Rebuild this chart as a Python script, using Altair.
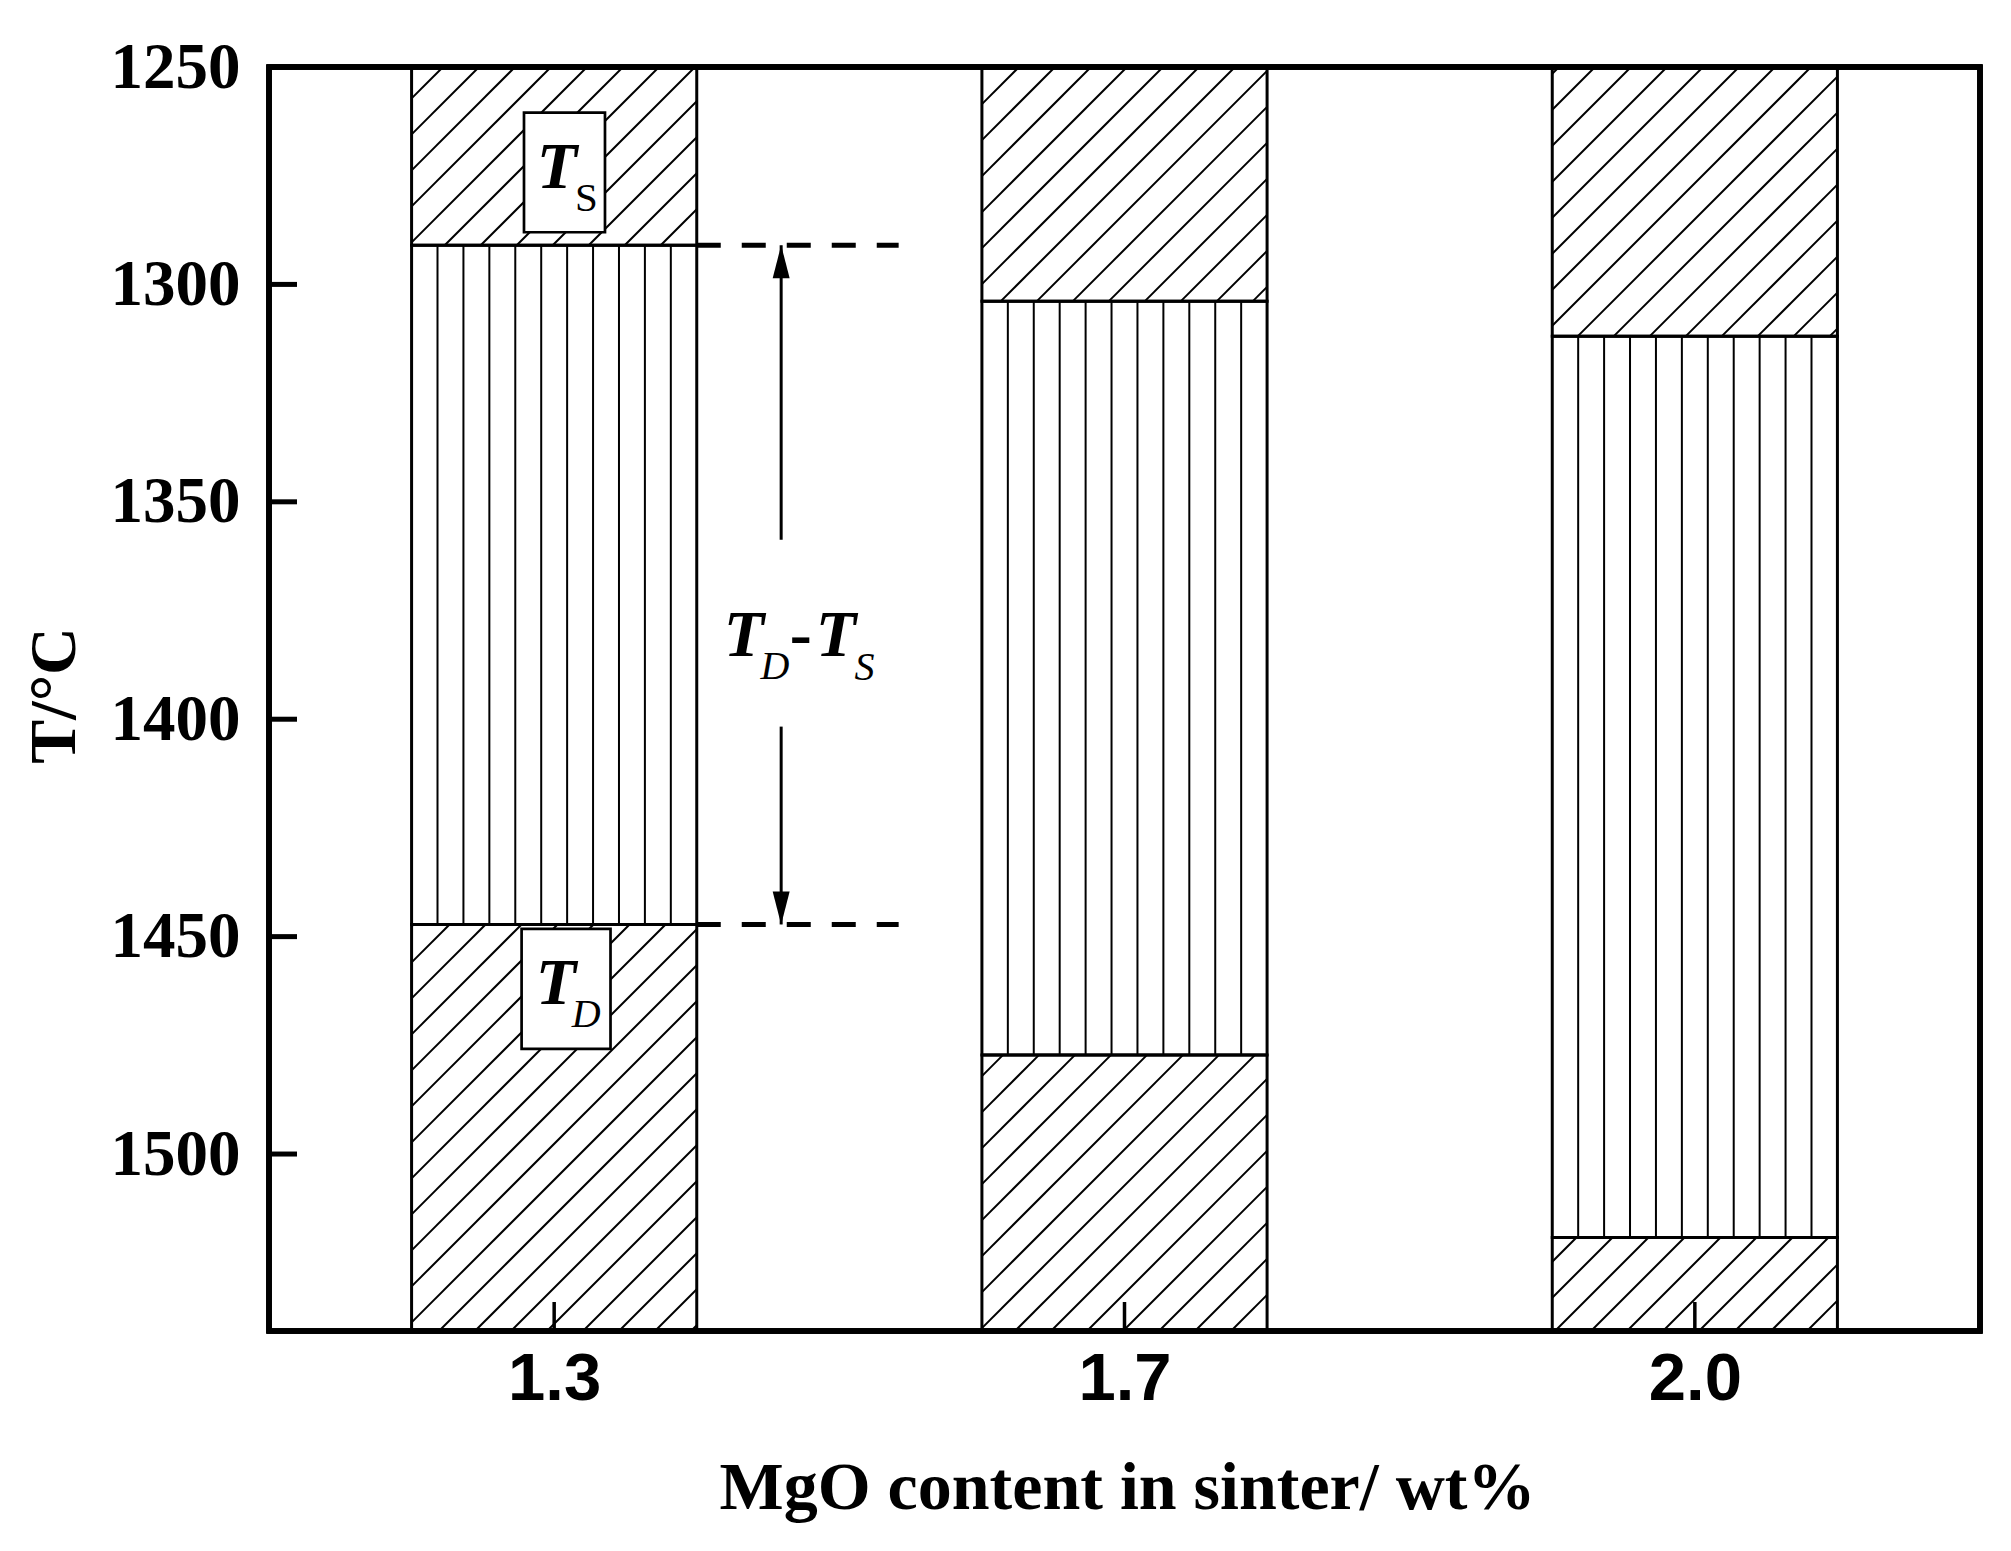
import json
import math
import altair as alt
import pandas as pd

# ---------------- data ----------------
CATEGORIES = ["1.3", "1.7", "2.0"]          # MgO content in sinter / wt%
T_S = [1291.0, 1303.9, 1311.9]              # softening start temperature, degC
T_D = [1447.2, 1477.2, 1519.2]              # dripping temperature, degC
Y_MIN, Y_MAX = 1250.0, 1540.7               # y-axis range (reversed)
Y_TICKS = [1250, 1300, 1350, 1400, 1450, 1500]
X_TITLE = "MgO content in sinter/ wt%"
Y_TITLE = "T/°C"

# ---------------- layout constants ----------------
W, H = 1711, 1264
X_MIN, X_MAX = -0.5, len(CATEGORIES) - 0.5
HALF = 0.25                                  # half bar width (index units)
PXU = W / (X_MAX - X_MIN)
PXT = H / (Y_MAX - Y_MIN)
SERIF = "Liberation Serif"
SANS = "Liberation Sans"


def px(x, t):
    return (x - X_MIN) * PXU, (t - Y_MIN) * PXT


def data(xp, yp):
    return xp / PXU + X_MIN, yp / PXT + Y_MIN


# ---------------- bar segments ----------------
seg_rows = []
for i, c in enumerate(CATEGORIES):
    xl, xr = i - HALF, i + HALF
    seg_rows.append(dict(cat=c, xl=xl, xr=xr, y0=Y_MIN, y1=T_S[i], kind="diag"))
    seg_rows.append(dict(cat=c, xl=xl, xr=xr, y0=T_S[i], y1=T_D[i], kind="vert"))
    seg_rows.append(dict(cat=c, xl=xl, xr=xr, y0=T_D[i], y1=Y_MAX, kind="diag"))
segs = pd.DataFrame(seg_rows)

# ---------------- hatch lines derived from the segments ----------------
SPACING = 36.0
PHASE = 30.0
hatch = []
for r in seg_rows:
    xlp, ytp = px(r["xl"], r["y0"])
    xrp, ybp = px(r["xr"], r["y1"])
    if r["kind"] == "diag":
        kmin = math.ceil((xlp + ytp - PHASE) / SPACING)
        kmax = math.floor((xrp + ybp - PHASE) / SPACING)
        for k in range(kmin, kmax + 1):
            cc = PHASE + SPACING * k
            x0 = max(xlp, cc - ybp)
            x1 = min(xrp, cc - ytp)
            if x1 - x0 > 0.5:
                a = data(x0, cc - x0)
                b = data(x1, cc - x1)
                hatch.append(dict(x=a[0], y=a[1], x2=b[0], y2=b[1]))
    else:
        n = 11
        for k in range(1, n):
            xx = r["xl"] + k * (r["xr"] - r["xl"]) / n
            hatch.append(dict(x=xx, y=r["y0"], x2=xx, y2=r["y1"]))
hatch = pd.DataFrame(hatch)

# ---------------- annotations ----------------
DASH_END = 0.604
dashes = pd.DataFrame(dict(x=[HALF, HALF], x2=[DASH_END, DASH_END],
                           y=[T_S[0], T_D[0]]))
ARROW_X = 0.398
ARROW_GAP = (1358.7, 1401.7)
shafts = pd.DataFrame(dict(x=[ARROW_X, ARROW_X],
                           y=[T_S[0], ARROW_GAP[1]],
                           y2=[ARROW_GAP[0], T_D[0]]))
heads = pd.DataFrame(dict(x=[ARROW_X, ARROW_X], y=[T_S[0], T_D[0]],
                          shape=["M0,0L0.515,2L-0.515,2Z",
                                 "M0,0L0.515,-2L-0.515,-2Z"]))
boxes = pd.DataFrame(dict(x=[-0.0529, -0.0571], x2=[0.0891, 0.0988],
                          y=[1260.5, 1448.2], y2=[1288.0, 1475.8]))

t_big = pd.DataFrame(dict(text=["T", "T", "T", "T"],
                          x=[0.0050, 0.0032, 0.3329, 0.4942],
                          y=[1277.8, 1465.4, 1385.5, 1385.5]))
t_sub_reg = pd.DataFrame(dict(text=["S"], x=[0.0567], y=[1283.05]))
t_sub_it = pd.DataFrame(dict(text=["D", "D", "S"],
                             x=[0.0560, 0.3872, 0.5441],
                             y=[1470.7, 1390.7, 1391.05]))
t_dash = pd.DataFrame(dict(text=["-"], x=[0.4324], y=[1385.5]))

ytick_df = pd.DataFrame(dict(v=Y_TICKS))
xtick_df = pd.DataFrame(dict(i=list(range(len(CATEGORIES)))))

# ---------------- scales / axes ----------------
xs = alt.Scale(domain=[X_MIN, X_MAX], nice=False, zero=False)
ys = alt.Scale(domain=[Y_MIN, Y_MAX], nice=False, zero=False, reverse=True)

label_expr = json.dumps(CATEGORIES) + "[round(datum.value)]"
x_axis = alt.Axis(
    title=X_TITLE, titleFont=SERIF, titleFontSize=68, titleFontWeight="bold",
    titleColor="black", titleX=858, titleY=177, titleBaseline="alphabetic",
    titleAlign="center",
    values=list(range(len(CATEGORIES))), labelExpr=label_expr,
    labelFont=SANS, labelFontSize=67, labelFontWeight="bold", labelColor="black",
    labelPadding=15, labelBaseline="top",
    domain=False, ticks=False, tickSize=0, grid=False)
y_axis = alt.Axis(
    title=Y_TITLE, titleFont=SERIF, titleFontSize=66, titleFontWeight="bold",
    titleColor="black", titleAngle=270, titleX=-195, titleY=628,
    titleBaseline="alphabetic", titleAlign="center",
    values=Y_TICKS, format="d",
    labelFont=SERIF, labelFontSize=65, labelFontWeight="bold", labelColor="black",
    labelPadding=29, labelAlign="right", labelBaseline="middle",
    domain=False, ticks=False, tickSize=0, grid=False)


def X(field):
    return alt.X(field, type="quantitative", scale=xs, axis=x_axis)


def Y(field):
    return alt.Y(field, type="quantitative", scale=ys, axis=y_axis)


base_fill = alt.Chart(segs).mark_rect(fill="white", strokeWidth=0).encode(
    x=X("xl"), x2="xr:Q", y=Y("y0"), y2="y1:Q")

hatch_l = alt.Chart(hatch).mark_rule(color="black", strokeWidth=2).encode(
    x=X("x"), x2="x2:Q", y=Y("y"), y2="y2:Q")

outline = alt.Chart(segs).mark_rect(fillOpacity=0, stroke="black", strokeWidth=3).encode(
    x=X("xl"), x2="xr:Q", y=Y("y0"), y2="y1:Q")

dash_l = alt.Chart(dashes).mark_rule(color="black", strokeWidth=5,
                                     strokeDash=[24, 21]).encode(
    x=X("x"), x2="x2:Q", y=Y("y"))

shaft_l = alt.Chart(shafts).mark_rule(color="black", strokeWidth=3).encode(
    x=X("x"), y=Y("y"), y2="y2:Q")

head_l = alt.Chart(heads).mark_point(filled=True, fill="black", stroke="black",
                                     strokeWidth=0, opacity=1, size=1089).encode(
    x=X("x"), y=Y("y"),
    shape=alt.Shape("shape:N", scale=None, legend=None))

box_l = alt.Chart(boxes).mark_rect(fill="white", stroke="black", strokeWidth=2.7).encode(
    x=X("x"), x2="x2:Q", y=Y("y"), y2="y2:Q")


def text_layer(df, size, weight, style):
    return alt.Chart(df).mark_text(font=SERIF, fontSize=size, fontWeight=weight,
                                   fontStyle=style, color="black", align="center",
                                   baseline="alphabetic").encode(
        x=X("x"), y=Y("y"), text="text:N")


txt_big = text_layer(t_big, 66, "bold", "italic")
txt_sub_reg = text_layer(t_sub_reg, 41, "normal", "normal")
txt_sub_it = text_layer(t_sub_it, 40, "normal", "italic")
txt_dash = text_layer(t_dash, 66, "bold", "normal")

ytick_l = alt.Chart(ytick_df).mark_rule(color="black", strokeWidth=5).encode(
    y=Y("v"), x=alt.value(0), x2=alt.value(28))
xtick_l = alt.Chart(xtick_df).mark_rule(color="black", strokeWidth=3.5).encode(
    x=X("i"), y=alt.value(H), y2=alt.value(H - 29))

frame = alt.Chart(ytick_df).mark_rect(fillOpacity=0, stroke="black", strokeWidth=5).encode(
    x=alt.value(0), x2=alt.value(W), y=alt.value(0), y2=alt.value(H))

chart = alt.layer(
    base_fill, hatch_l, outline, dash_l, shaft_l, head_l, box_l,
    txt_big, txt_sub_reg, txt_sub_it, txt_dash, ytick_l, xtick_l, frame
).properties(
    width=W, height=H,
    autosize=alt.AutoSizeParams(type="none"),
    padding={"left": 261, "top": 59, "right": 22, "bottom": 212},
    background="white",
).configure_view(strokeWidth=0)

chart.save("out.html", embed_options={"renderer": "svg", "actions": False})
